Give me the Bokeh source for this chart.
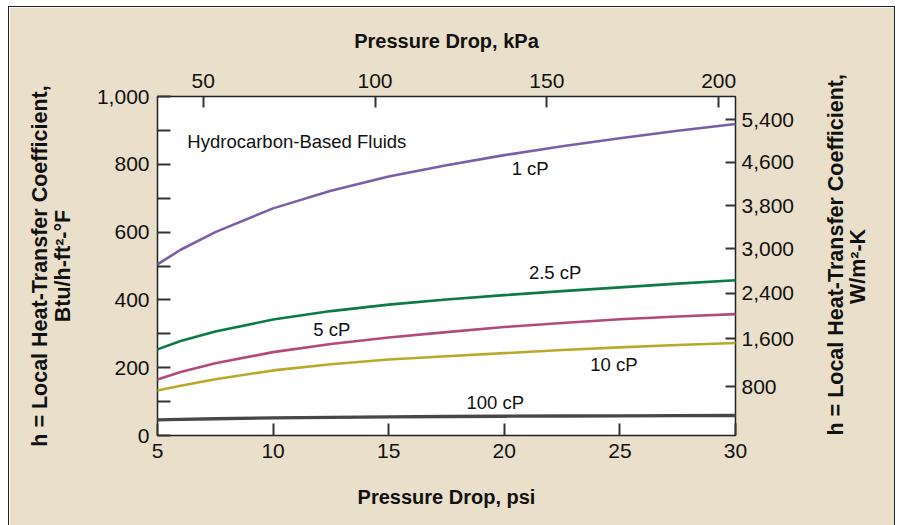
from bokeh.plotting import figure
from bokeh.models import LinearAxis, Range1d, FixedTicker, Label, NumeralTickFormatter
from bokeh.embed import file_html
from bokeh.resources import INLINE
import math

# ---- data ----
psi = [5, 6, 7.5, 10, 12.5, 15, 17.5, 20, 22.5, 25, 27.5, 30]
h_1cp = [505, 548, 600, 670, 722, 764, 797, 827, 853, 877, 899, 919]
h_2_5cp = [254, 279, 307, 342, 367, 386, 401, 414, 426, 437, 448, 458]
h_5cp = [165, 187, 213, 246, 270, 289, 305, 320, 332, 343, 351, 358]
h_10cp = [133, 147, 166, 192, 210, 224, 234, 243, 252, 260, 267, 273]
h_100cp = [46, 47.5, 49.5, 52, 53.5, 55, 56, 57, 57.5, 58, 58.5, 59]

series_names = ["1 cP", "2.5 cP", "5 cP", "10 cP", "100 cP"]

psi_ticks = [5, 10, 15, 20, 25, 30]
btu_ticks = [0, 200, 400, 600, 800, 1000]
btu_minor = [100, 300, 500, 700, 900]
kpa_ticks = [50, 100, 150, 200]
wm2k_labels = ["800", "1,600", "2,400", "3,000", "3,800", "4,600", "5,400"]
wm2k_at_btu = [144, 285, 420, 551, 678, 806, 931]

left_title = "h = Local Heat-Transfer Coefficient,\nBtu/h-ft²-°F"
right_title_lines = ["h = Local Heat-Transfer Coefficient,", "W/m²-K"]

FONT = "Liberation Sans"
INK = "#111111"
TICK = "#333333"

p = figure(width=887, height=524, x_range=Range1d(5, 30), y_range=Range1d(0, 1000),
           output_backend="svg", toolbar_location=None,
           min_border_left=148, min_border_right=159, min_border_top=89, min_border_bottom=96)
p.margin = (6, 0, 0, 8)
p.styles = {"border": "1px solid #222222"}
p.background_fill_color = "white"
p.border_fill_color = "#e9dfca"
p.outline_line_color = "#222222"
p.outline_line_width = 1.5
p.xgrid.visible = False
p.ygrid.visible = False


def style_axis(ax, tick_len):
    ax.axis_line_color = None
    ax.major_tick_in = tick_len
    ax.major_tick_out = 0
    ax.minor_tick_in = tick_len
    ax.minor_tick_out = 0
    ax.major_tick_line_color = TICK
    ax.major_tick_line_width = 2
    ax.minor_tick_line_color = TICK
    ax.minor_tick_line_width = 2
    ax.major_label_text_font = FONT
    ax.major_label_text_font_size = "21px"
    ax.major_label_text_color = INK
    ax.axis_label_text_font = FONT
    ax.axis_label_text_font_size = "20px"
    ax.axis_label_text_font_style = "bold"
    ax.axis_label_text_color = INK


# left axis (Btu/h-ft2-F)
ly = p.yaxis[0]
ly.ticker = FixedTicker(ticks=btu_ticks, minor_ticks=btu_minor)
ly.formatter = NumeralTickFormatter(format="0,0")
style_axis(ly, 13)
ly.major_label_standoff = 8
ly.axis_label = left_title
ly.axis_label_standoff = 19
ly.axis_label_text_font_size = "21.5px"
ly.axis_label_text_line_height = 0.95

# bottom axis (psi)
bx = p.xaxis[0]
bx.ticker = FixedTicker(ticks=psi_ticks)
style_axis(bx, 12)
bx.minor_tick_in = 0
bx.major_label_standoff = 8
bx.axis_label = "Pressure Drop, psi"
bx.axis_label_standoff = 25

# top axis (kPa)
p.extra_x_ranges = {"kpa": Range1d(36.7, 204.9)}
tx = LinearAxis(x_range_name="kpa", ticker=FixedTicker(ticks=kpa_ticks),
                axis_label="Pressure Drop, kPa")
style_axis(tx, 11)
tx.minor_tick_in = 0
tx.major_label_standoff = 9
tx.axis_label_standoff = 19
p.add_layout(tx, "above")

# right axis (W/m2-K): title reads bottom-to-top like the left one,
# starting at the bottom of the frame; second line is indented (non-breaking spaces)
p.extra_y_ranges = {"si": Range1d(0, 1000)}
ry = LinearAxis(y_range_name="si", ticker=FixedTicker(ticks=wm2k_at_btu),
                major_label_overrides={t: s for t, s in zip(wm2k_at_btu, wm2k_labels)},
                axis_label=right_title_lines[0] + "\n" + "\u00a0" * 22 + right_title_lines[1])
style_axis(ry, 10)
ry.minor_tick_in = 0
ry.major_label_standoff = 6
ry.axis_label_standoff = 50
ry.axis_label_text_font_size = "21.5px"
ry.axis_label_text_line_height = 0.95
ry.axis_label_orientation = math.pi / 2
try:
    ry.axis_label_align = "start"
except Exception:
    ry.axis_label_align = "left"
p.add_layout(ry, "right")

# curves
colors = ["#7a5fa8", "#0b7a45", "#b24a7a", "#b8a92a", "#474747"]
widths = [2.6, 2.6, 2.6, 2.6, 3.4]
for ys, c, w in zip([h_1cp, h_2_5cp, h_5cp, h_10cp, h_100cp], colors, widths):
    p.line(psi, ys, line_color=c, line_width=w, line_join="round", line_cap="round")

# in-plot labels
lab_pos = [(21.12, 788), (22.2, 481), (12.54, 313), (24.74, 209), (19.61, 97)]
for name, (x, y) in zip(series_names, lab_pos):
    p.add_layout(Label(x=x, y=y, text=name, text_align="center", text_baseline="middle",
                       text_font=FONT, text_font_size="18.5px", text_color=INK))
p.add_layout(Label(x=6.29, y=867, text="Hydrocarbon-Based Fluids", text_align="left",
                   text_baseline="middle", text_font=FONT, text_font_size="18.5px", text_color=INK))

open("out.html", "w").write(file_html(p, INLINE))
